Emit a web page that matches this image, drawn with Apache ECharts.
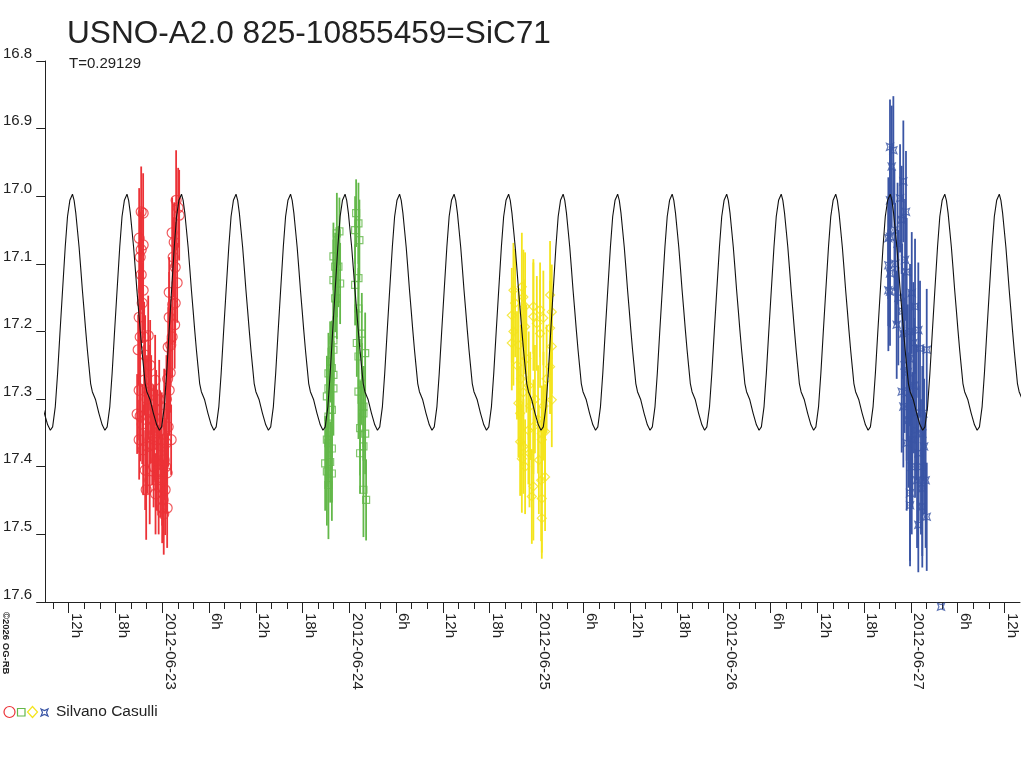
<!DOCTYPE html>
<html>
<head>
<meta charset="utf-8">
<title>USNO-A2.0 825-10855459=SiC71</title>
<script src="https://cdn.jsdelivr.net/npm/echarts@6/dist/echarts.min.js"></script>
<style>
html, body { margin: 0; padding: 0; background: #fff; }
#lc { width: 1024px; height: 768px; }
</style>
</head>
<body>
<div id="lc"></div>
<script>
// time = hours since 2012-06-22 00:00 UT, [time, mag, err]

// light curve template, one period, phase from maximum
var phases = [0, 0.03, 0.061, 0.091, 0.121, 0.152, 0.182, 0.212, 0.242, 0.273, 0.303, 0.333,
    0.364, 0.424, 0.485, 0.545, 0.594, 0.636, 0.685, 0.727, 0.770, 0.818, 0.867, 0.909, 0.952];
var phaseMags = [16.997, 17.006, 17.025, 17.050, 17.075, 17.107, 17.139, 17.168, 17.198, 17.227, 17.252, 17.277,
    17.289, 17.301, 17.321, 17.338, 17.346, 17.341, 17.311, 17.262, 17.203, 17.139, 17.075, 17.030, 17.006];
var periodDays = 0.29129;
var maxEpoch = 26.48;   // a maximum, hours

// night 1 (circles)
var night1 = [
    [21.31,17.023,0.067],[21.56,17.025,0.059],[21.05,17.062,0.074],[21.56,17.072,0.052],[21.31,17.079,0.059],
    [21.18,17.090,0.067],[21.31,17.116,0.052],[21.56,17.139,0.059],[21.05,17.179,0.067],[21.44,17.158,0.059],
    [21.69,17.208,0.052],[21.18,17.208,0.059],[20.92,17.227,0.052],[21.82,17.235,0.059],[21.05,17.287,0.074],
    [21.69,17.272,0.052],[20.79,17.322,0.059],[21.18,17.325,0.067],[21.44,17.337,0.059],[21.56,17.375,0.067],
    [21.95,17.434,0.074],[21.05,17.360,0.059],[21.82,17.405,0.059],
    [22.21,17.206,0.059],[22.46,17.250,0.067],[22.59,17.294,0.059],[22.85,17.331,0.052],[22.72,17.368,0.059],
    [23.10,17.272,0.067],[23.23,17.316,0.059],[23.36,17.360,0.074],[23.49,17.405,0.067],[23.62,17.301,0.059],
    [23.74,17.346,0.059],[23.87,17.383,0.074],[24.00,17.420,0.067],[24.13,17.449,0.059],[24.26,17.322,0.067],
    [24.26,17.390,0.059],[24.38,17.434,0.067],[24.51,17.365,0.059],[24.64,17.461,0.059],[24.00,17.461,0.052],
    [24.64,17.409,0.059],[22.30,17.290,0.070],[22.55,17.330,0.065],[22.90,17.400,0.060],[23.00,17.350,0.070],
    [23.30,17.390,0.075],[23.55,17.430,0.070],[23.80,17.410,0.065],[23.95,17.360,0.070],[24.20,17.470,0.060],
    [24.45,17.400,0.070],[22.05,17.300,0.065],[22.15,17.370,0.070],[21.90,17.330,0.060],[22.40,17.420,0.065],
    [23.15,17.440,0.060],[24.55,17.300,0.065],
    [24.77,17.341,0.059],[24.90,17.287,0.067],[25.03,17.261,0.059],[25.15,17.360,0.052],[24.77,17.223,0.059],
    [25.28,17.208,0.059],[24.90,17.179,0.067],[25.67,17.158,0.059],[24.90,17.142,0.052],[25.92,17.128,0.059],
    [25.67,17.105,0.067],[25.41,17.090,0.059],[25.54,17.068,0.059],[25.28,17.054,0.052],[26.05,17.017,0.059],
    [25.79,17.006,0.074],[26.18,17.028,0.067],[24.70,17.270,0.060],[25.10,17.220,0.060],[25.35,17.160,0.060],
    [25.60,17.190,0.065]
];

// night 2 (squares)
var night2 = [
    [46.73,17.052,0.05],[46.40,17.055,0.06],[45.96,17.089,0.05],[46.60,17.104,0.06],[46.18,17.104,0.05],
    [45.96,17.124,0.06],[46.40,17.129,0.05],[46.82,17.129,0.06],[46.18,17.151,0.05],[46.40,17.151,0.06],
    [45.96,17.213,0.06],[45.96,17.227,0.05],[45.54,17.245,0.06],[45.76,17.254,0.07],[45.32,17.262,0.06],
    [45.96,17.264,0.05],[45.32,17.284,0.06],[45.96,17.284,0.07],[45.12,17.296,0.06],[45.76,17.316,0.07],
    [45.32,17.326,0.06],[45.12,17.360,0.07],[45.32,17.365,0.06],[45.76,17.373,0.08],[44.90,17.395,0.07],
    [45.54,17.393,0.06],[45.12,17.407,0.08],[45.76,17.410,0.07],[45.32,17.427,0.08],
    [48.87,17.025,0.05],[49.17,17.040,0.06],[48.74,17.050,0.05],[49.29,17.065,0.06],[49.17,17.121,0.05],
    [48.74,17.131,0.06],[49.17,17.166,0.06],[49.60,17.203,0.06],[48.96,17.217,0.05],[50.03,17.232,0.06],
    [49.17,17.237,0.07],[49.60,17.277,0.06],[49.17,17.289,0.07],[49.81,17.311,0.06],[49.81,17.321,0.07],
    [49.38,17.343,0.07],[50.03,17.351,0.06],[49.81,17.370,0.07],[49.38,17.380,0.06],[49.81,17.434,0.07],
    [50.15,17.449,0.06]
];

// night 3 (diamonds)
var night3 = [
    [69.04,17.139,0.07],[69.26,17.158,0.08],[68.83,17.176,0.07],[69.04,17.200,0.08],[68.83,17.217,0.07],
    [70.12,17.134,0.08],[70.32,17.149,0.07],[70.54,17.163,0.08],[70.54,17.193,0.07],[71.60,17.163,0.07],
    [71.60,17.178,0.08],[72.46,17.168,0.07],[72.88,17.180,0.07],[73.74,17.146,0.08],[73.96,17.171,0.07],
    [73.74,17.195,0.07],[73.96,17.222,0.07],[73.74,17.252,0.07],[73.96,17.301,0.07],[72.04,17.188,0.07],
    [72.46,17.203,0.08],[69.68,17.306,0.08],[69.90,17.321,0.07],[69.90,17.363,0.08],[70.32,17.370,0.07],
    [70.12,17.388,0.08],[70.54,17.400,0.07],[70.96,17.346,0.08],[71.60,17.341,0.07],[72.68,17.351,0.07],
    [73.10,17.348,0.07],[73.10,17.415,0.08],[71.60,17.429,0.08],[71.40,17.444,0.07],[72.68,17.447,0.08],
    [72.68,17.476,0.06],[72.68,17.360,0.08],[69.50,17.250,0.08],[69.70,17.220,0.08],[70.00,17.270,0.08],
    [70.30,17.290,0.08],[70.70,17.240,0.08],[71.00,17.280,0.08],[71.20,17.310,0.08],[71.80,17.300,0.08],
    [72.20,17.330,0.08],[72.30,17.390,0.08],[72.90,17.310,0.08],[73.30,17.270,0.08],[72.60,17.420,0.09],
    [71.10,17.380,0.08]
];

// night 4 (stars)
var night4 = [
    [117.33,16.927,0.07],[117.76,16.932,0.08],[117.55,16.956,0.09],[117.33,17.006,0.08],[117.12,17.062,0.09],
    [117.33,17.060,0.08],[117.12,17.102,0.09],[117.33,17.114,0.08],[117.12,17.139,0.09],[117.33,17.141,0.08],
    [119.04,16.978,0.09],[118.62,17.003,0.08],[119.38,17.023,0.09],[118.83,17.035,0.08],[119.26,17.094,0.09],
    [119.47,17.112,0.08],[120.12,17.143,0.09],[120.54,17.163,0.10],[118.19,17.190,0.08],[119.04,17.203,0.09],
    [119.90,17.200,0.10],[120.96,17.198,0.10],[120.32,17.217,0.09],[121.18,17.225,0.10],[122.04,17.227,0.09],
    [118.83,17.289,0.09],[119.47,17.291,0.10],[119.04,17.311,0.09],[119.68,17.331,0.10],[120.54,17.346,0.10],
    [119.47,17.365,0.10],[120.12,17.400,0.10],[119.90,17.439,0.10],[119.90,17.457,0.09],[121.47,17.432,0.10],
    [121.90,17.420,0.10],[121.47,17.459,0.09],[122.04,17.474,0.08],[120.96,17.486,0.07],[121.47,17.351,0.10],
    [121.60,17.321,0.10],[118.00,17.100,0.09],[118.40,17.150,0.10],[118.90,17.170,0.10],[119.20,17.250,0.10],
    [119.60,17.260,0.10],[120.00,17.300,0.10],[120.40,17.280,0.10],[120.70,17.320,0.10],[121.00,17.380,0.10],
    [121.30,17.400,0.10],[121.70,17.370,0.10],[120.20,17.360,0.10],[120.80,17.420,0.10],[119.80,17.240,0.10],
    [117.90,17.050,0.09],[118.30,17.070,0.09],[123.87,17.607,0]
];

// x axis labels
var labelHours = [12, 18, 24, 30, 36, 42, 48, 54, 60, 66, 72, 78, 84, 90, 96, 102, 108, 114, 120, 126, 132];
var labelTexts = ['12h', '18h', '2012-06-23', '6h', '12h', '18h', '2012-06-24', '6h', '12h', '18h',
    '2012-06-25', '6h', '12h', '18h', '2012-06-26', '6h', '12h', '18h', '2012-06-27', '6h', '12h'];

var C = { red: '#ec3237', green: '#63b84a', yellow: '#f4e41c', blue: '#3a55a5', ink: '#222' };
var FONT = 'Liberation Sans, Arial, sans-serif';
var STAR = 'path://M0,0L5,2L10,0L8,5L10,10L5,8L0,10L2,5Z';

// curve: template repeated every period
var curve = [];
var P = periodDays * 24;
for (var k = -3; k <= 15; k++) {
    for (var i = 0; i < phases.length; i++) {
        curve.push([maxEpoch + (k + phases[i]) * P, phaseMags[i]]);
    }
}
curve.push([maxEpoch + 16 * P, phaseMags[0]]);

var minorTicks = [];
for (var h = 10; h <= 132; h += 2) minorTicks.push(h);

function errBar(color) {
    return function (params, api) {
        var a = api.coord([api.value(0), api.value(1) - api.value(2)]);
        var b = api.coord([api.value(0), api.value(1) + api.value(2)]);
        return {
            type: 'line',
            shape: { x1: a[0], y1: a[1], x2: b[0], y2: b[1] },
            style: { stroke: color, lineWidth: 1.8 }
        };
    };
}

function bars(data, color) {
    return { type: 'custom', data: data, encode: { x: 0, y: 1 }, renderItem: errBar(color), z: 2, silent: true };
}
function marks(data, color, symbol, size) {
    return {
        type: 'scatter', data: data, symbol: symbol, symbolSize: size, z: 3, silent: true, clip: false,
        itemStyle: { color: 'rgba(0,0,0,0)', borderColor: color, borderWidth: 1.2 }
    };
}

var myChart = echarts.init(document.getElementById('lc'));
var option = {
    animation: false,
    backgroundColor: '#fff',
    title: [
        { text: 'USNO-A2.0 825-10855459=SiC71', left: 62, top: 13,
          textStyle: { fontFamily: FONT, fontSize: 31.6, fontWeight: 'normal', color: C.ink } },
        { text: 'T=0.29129', left: 64, top: 51,
          textStyle: { fontFamily: FONT, fontSize: 15, fontWeight: 'normal', color: C.ink } }
    ],
    grid: { left: 45, right: 4, top: 61, bottom: 166 },
    xAxis: [
        {
            type: 'value', min: 9, max: 134,
            axisLine: { lineStyle: { color: C.ink, width: 1 } },
            axisTick: { customValues: minorTicks, length: 7, lineStyle: { color: C.ink } },
            axisLabel: { show: false },
            splitLine: { show: false }
        },
        {
            type: 'value', min: 9, max: 134, position: 'bottom',
            axisLine: { show: false },
            axisTick: { customValues: labelHours, length: 11, lineStyle: { color: C.ink } },
            axisLabel: {
                customValues: labelHours, rotate: -90, margin: 11,
                verticalAlign: 'bottom', align: 'left',
                fontFamily: FONT, fontSize: 15, color: C.ink,
                formatter: function (v) { return labelTexts[labelHours.indexOf(v)]; }
            },
            splitLine: { show: false }
        }
    ],
    yAxis: {
        type: 'value', inverse: true, min: 16.8, max: 17.6, interval: 0.1,
        axisLine: { show: true, lineStyle: { color: C.ink, width: 1 } },
        axisTick: { show: true, length: 9, lineStyle: { color: C.ink } },
        axisLabel: {
            margin: 13, verticalAlign: 'bottom', fontFamily: FONT, fontSize: 15, color: C.ink,
            formatter: function (v) { return v.toFixed(1); }
        },
        splitLine: { show: false }
    },
    graphic: [
        { type: 'circle', shape: { cx: 9.5, cy: 712, r: 5.5 }, style: { fill: 'none', stroke: C.red, lineWidth: 1.2 } },
        { type: 'rect', shape: { x: 17.5, y: 708.5, width: 7.5, height: 7.5 }, style: { fill: 'none', stroke: C.green, lineWidth: 1.2 } },
        { type: 'polygon', shape: { points: [[32.5, 706.5], [37.5, 712], [32.5, 717.5], [27.5, 712]] },
          style: { fill: 'none', stroke: C.yellow, lineWidth: 1.2 } },
        { type: 'polygon', shape: { points: [[41, 709], [44.5, 710.5], [48, 709], [46.5, 712.5], [48, 716], [44.5, 714.5], [41, 716], [42.5, 712.5]] },
          style: { fill: 'none', stroke: C.blue, lineWidth: 1.2 } },
        { type: 'text', x: 56, y: 712, style: { text: 'Silvano Casulli', fontFamily: FONT, fontSize: 15.5, fill: C.ink, verticalAlign: 'middle' } },
        { type: 'text', x: 1, y: 612, rotation: -Math.PI / 2,
          style: { text: '©2026 OG-RB', fontFamily: FONT, fontSize: 9.5, fontWeight: 'bold', fill: C.ink, verticalAlign: 'bottom' } }
    ],
    series: [
        bars(night1, C.red), bars(night2, C.green), bars(night3, C.yellow), bars(night4, C.blue),
        marks(night1, C.red, 'circle', 10),
        marks(night2, C.green, 'rect', 7),
        marks(night3, C.yellow, 'diamond', 9),
        marks(night4, C.blue, STAR, 7),
        {
            type: 'line', data: curve, showSymbol: false, symbol: 'none', z: 4, silent: true,
            lineStyle: { color: '#111', width: 1.1 }
        }
    ]
};
if (option && typeof option === "object") {
    myChart.setOption(option, true);
}
</script>
</body>
</html>
